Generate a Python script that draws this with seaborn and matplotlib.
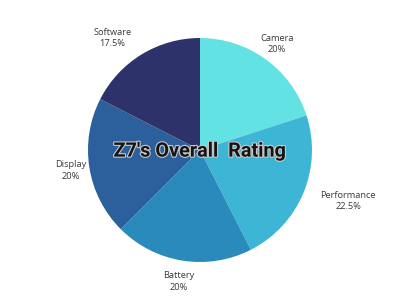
import numpy as np
import matplotlib
matplotlib.use("Agg")
import matplotlib.pyplot as plt
import matplotlib.patheffects as pe
import seaborn as sns

categories = ["Camera", "Performance", "Battery", "Display", "Software"]
values = [20, 22.5, 20, 20, 17.5]
pct_labels = ["20%", "22.5%", "20%", "20%", "17.5%"]
title = "Z7's Overall  Rating"

colors = ["#63E2E3", "#3DB6D6", "#2B8ABC", "#2C609C", "#2D336A"]
label_dist = [1.17, 1.40, 1.19, 1.165, 1.27]
label_angle_shift = [0, 3.5, 0, 0, 6.5]

sns.set_theme(style="white")
plt.rcParams['font.family'] = ['Open Sans', 'DejaVu Sans']

fig = plt.figure(figsize=(4, 3), dpi=100)
ax = fig.add_axes([0, 0, 1, 1])
wedges, _ = ax.pie(values, colors=colors, startangle=90, counterclock=False,
                   radius=1, wedgeprops=dict(linewidth=0))
ax.set_xlim(-200 / 112, 200 / 112)
ax.set_ylim(-150 / 112, 150 / 112)
ax.set_aspect("equal")
ax.axis("off")

for w, cat, pct, d, sh in zip(wedges, categories, pct_labels, label_dist, label_angle_shift):
    ang = np.deg2rad((w.theta1 + w.theta2) / 2 + sh)
    ax.text(d * np.cos(ang), d * np.sin(ang), f"{cat}\n{pct}", ha="center", va="center",
            fontsize=6.7, color="#3a3a3a", linespacing=1.35)

ax.text(0, -0.01, title, ha="center", va="center", fontsize=14.3, fontweight="bold",
        color="#141414", family=['Roboto', 'DejaVu Sans'],
        path_effects=[pe.withStroke(linewidth=1.6, foreground="#c8c8c8")])

fig.savefig("out.png", dpi=100, facecolor="white")
